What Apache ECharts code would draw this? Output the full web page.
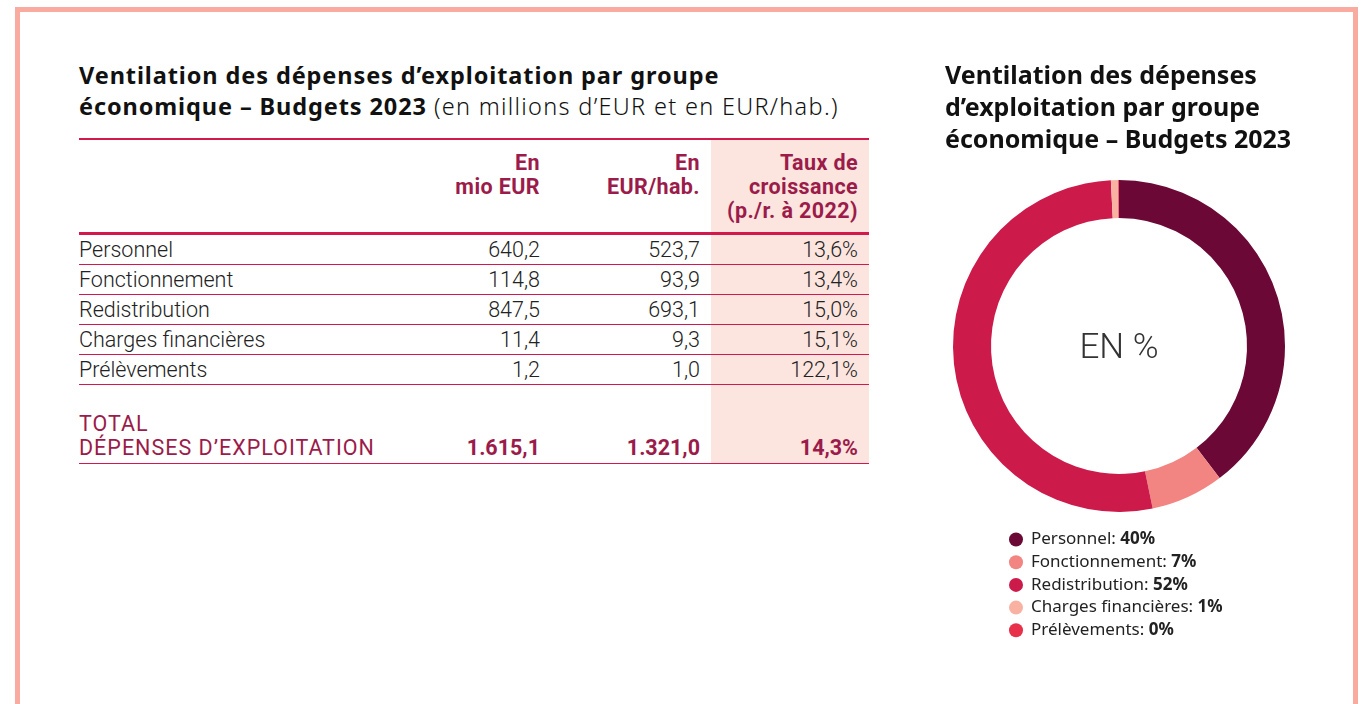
<!DOCTYPE html>
<html>
<head>
<meta charset="utf-8">
<script src="https://cdn.jsdelivr.net/npm/echarts@6/dist/echarts.min.js"></script>
<style>
    html, body {margin: 0; padding: 0; background: #fff;}
    .page {position: relative; width: 1364px; height: 704px; overflow: hidden;}
    .frame {position: absolute; left: 15px; top: 7px; width: 1333px; height: 720px; border: 5px solid #f9ab9f;}
    .left {position: absolute; left: 79px; top: 60px; width: 790px;}
    .left h2 {margin: 0; font-family: "Noto Sans", sans-serif; font-size: 23.5px; letter-spacing: 0.9px; line-height: 31px; font-weight: 700; color: #111; white-space: nowrap;}
    .left h2 span {font-weight: 300; letter-spacing: 1.3px;}
    table {margin-top: 16px; border-collapse: collapse; width: 790px; font-family: Roboto, sans-serif; font-weight: 300; font-size: 21.5px; color: #222;}
    td, th {padding: 0 11px 0 0; text-align: right;}
    td:first-child, th:first-child {text-align: left; padding: 0;}
    th {color: #9b1b4a; font-weight: 700; font-size: 21.5px; letter-spacing: 0.4px; line-height: 24px; vertical-align: top; padding-top: 11px; padding-bottom: 9px;}
    thead tr {border-top: 2px solid #d2184c; border-bottom: 3px solid #d2184c;}
    tbody tr {border-bottom: 1px solid #d2184c; height: 30px;}
    tbody td {line-height: 29px;}
    tr .c4 {background: #fce5df;}
    tr.gap {border-bottom: none; height: 27px;}
    tr.total td {color: #9b1b4a; font-weight: 400; font-size: 21.5px; line-height: 24px; vertical-align: bottom; padding-bottom: 3px;}
    tr.total td:first-child {letter-spacing: 1px;}
    tr.total td.v {font-weight: 700;}
    #chart {position: absolute; left: 920px; top: 40px; width: 420px; height: 620px;}
</style>
</head>
<body>
<div class="page">
    <div class="frame"></div>
    <div class="left">
        <h2>Ventilation des dépenses d’exploitation par groupe<br>économique – Budgets 2023 <span>(en millions d’EUR et en EUR/hab.)</span></h2>
        <table id="tbl"></table>
    </div>
    <div id="chart"></div>
</div>
<script>
// données
var categories = ['Personnel', 'Fonctionnement', 'Redistribution', 'Charges financières', 'Prélèvements'];
var mioEur = [640.2, 114.8, 847.5, 11.4, 1.2];
var eurHab = [523.7, 93.9, 693.1, 9.3, 1.0];
var croissance = [13.6, 13.4, 15.0, 15.1, 122.1];
var total = {mioEur: 1615.1, eurHab: 1321.0, croissance: 14.3};
var colors = ['#6b0836', '#f28482', '#cc1a4a', '#f9b2a2', '#e8304a'];

function fr(v) {
    // format belge : 1.615,1
    var s = v.toFixed(1).split('.');
    s[0] = s[0].replace(/\B(?=(\d{3})+(?!\d))/g, '.');
    return s.join(',');
}

// tableau
var html = '<thead><tr><th style="width:316px"></th><th style="width:145px">En<br>mio EUR</th>' +
    '<th style="width:149px">En<br>EUR/hab.</th><th class="c4">Taux de<br>croissance<br>(p./r. à 2022)</th></tr></thead><tbody>';
for (var i = 0; i < categories.length; i++) {
    html += '<tr><td>' + categories[i] + '</td><td>' + fr(mioEur[i]) + '</td><td>' + fr(eurHab[i]) +
        '</td><td class="c4">' + fr(croissance[i]) + '%</td></tr>';
}
html += '<tr class="gap"><td></td><td></td><td></td><td class="c4"></td></tr>';
html += '<tr class="total"><td>TOTAL<br>DÉPENSES D’EXPLOITATION</td><td class="v">' + fr(total.mioEur) +
    '</td><td class="v">' + fr(total.eurHab) + '</td><td class="c4 v">' + fr(total.croissance) + '%</td></tr></tbody>';
document.getElementById('tbl').innerHTML = html;

// donut
var sum = mioEur.reduce(function (a, b) { return a + b; }, 0);
var myChart = echarts.init(document.getElementById('chart'));
var option = {
    title: [{
        text: 'Ventilation des dépenses\nd’exploitation par groupe\néconomique – Budgets 2023',
        left: 25,
        top: 21,
        padding: 0,
        textStyle: {fontFamily: 'Noto Sans', fontSize: 25, fontWeight: 'bold', lineHeight: 32, color: '#111'}
    }, {
        text: 'EN %',
        left: 199,
        top: 309,
        padding: 0,
        textAlign: 'center',
        textVerticalAlign: 'middle',
        textStyle: {fontFamily: 'Roboto', fontSize: 35, fontWeight: 300, color: '#333'}
    }],
    legend: {
        orient: 'vertical',
        left: 89,
        top: 491,
        padding: 0,
        itemWidth: 14,
        itemHeight: 14,
        itemGap: 5.7,
        icon: 'circle',
        selectedMode: false,
        formatter: function (name) {
            var idx = categories.indexOf(name);
            return '{n|' + name + ': }{b|' + Math.round(mioEur[idx] / sum * 100) + '%}';
        },
        textStyle: {
            rich: {
                n: {fontFamily: 'Noto Sans', fontSize: 17, lineHeight: 14, color: '#222', padding: [0, 0, 0, 3]},
                b: {fontFamily: 'Noto Sans', fontSize: 17, lineHeight: 14, fontWeight: 'bold', color: '#222'}
            }
        }
    },
    series: [{
        type: 'pie',
        center: [199, 306],
        radius: [128, 166],
        startAngle: 90,
        label: {show: false},
        emphasis: {disabled: true},
        silent: true,
        data: categories.map(function (c, i) {
            return {name: c, value: mioEur[i], itemStyle: {color: colors[i]}};
        })
    }]
};
myChart.setOption(option);
</script>
</body>
</html>
